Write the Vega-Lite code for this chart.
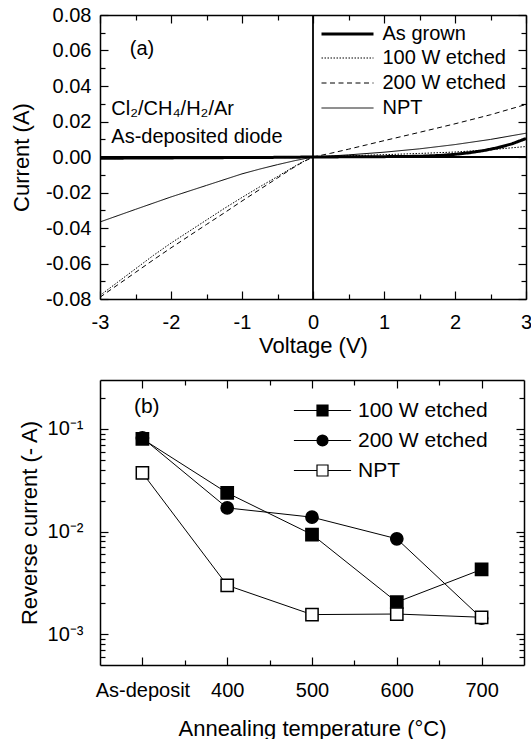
{
  "$schema": "https://vega.github.io/schema/vega-lite/v6.json",
  "padding": {"left": 10, "top": 5, "right": 0, "bottom": 0},
  "spacing": 23,
  "config": {
    "font": "Liberation Sans",
    "view": {"stroke": null},
    "axis": {"grid": false, "domainColor": "black", "tickColor": "black", "labelColor": "black", "titleColor": "black", "domainWidth": 1.5, "tickWidth": 1.2, "labelFontSize": 20, "titleFontSize": 22, "titleFontWeight": "normal", "labelFlush": false, "labelOverlap": false, "labelFont": "Liberation Sans", "titleFont": "Liberation Sans"},
    "legend": {"labelFont": "Liberation Sans", "labelColor": "black"},
    "text": {"font": "Liberation Sans", "color": "black"}
  },
  "datasets": {
    "iv": [
      {"series": "As grown", "V": -3, "I": -0.0007}, {"series": "As grown", "V": -2.5, "I": -0.0006}, {"series": "As grown", "V": -2, "I": -0.0005}, {"series": "As grown", "V": -1.5, "I": -0.0004}, {"series": "As grown", "V": -1, "I": -0.0003}, {"series": "As grown", "V": -0.5, "I": -0.0002}, {"series": "As grown", "V": 0, "I": 0}, {"series": "As grown", "V": 0.5, "I": 0.0001}, {"series": "As grown", "V": 1, "I": 0.0002}, {"series": "As grown", "V": 1.5, "I": 0.0004}, {"series": "As grown", "V": 1.8, "I": 0.0009}, {"series": "As grown", "V": 2.0, "I": 0.0015}, {"series": "As grown", "V": 2.2, "I": 0.0024}, {"series": "As grown", "V": 2.4, "I": 0.0036}, {"series": "As grown", "V": 2.6, "I": 0.0052}, {"series": "As grown", "V": 2.8, "I": 0.0074}, {"series": "As grown", "V": 3.0, "I": 0.0104},
      {"series": "100 W etched", "V": -3, "I": -0.078}, {"series": "100 W etched", "V": -2.75, "I": -0.0705}, {"series": "100 W etched", "V": -2.5, "I": -0.063}, {"series": "100 W etched", "V": -2.25, "I": -0.0555}, {"series": "100 W etched", "V": -2, "I": -0.0485}, {"series": "100 W etched", "V": -1.75, "I": -0.042}, {"series": "100 W etched", "V": -1.5, "I": -0.0355}, {"series": "100 W etched", "V": -1.25, "I": -0.029}, {"series": "100 W etched", "V": -1, "I": -0.0228}, {"series": "100 W etched", "V": -0.75, "I": -0.0168}, {"series": "100 W etched", "V": -0.5, "I": -0.011}, {"series": "100 W etched", "V": -0.3, "I": -0.0062}, {"series": "100 W etched", "V": -0.15, "I": -0.0028}, {"series": "100 W etched", "V": 0, "I": 0}, {"series": "100 W etched", "V": 0.25, "I": 0.0004}, {"series": "100 W etched", "V": 0.5, "I": 0.0007}, {"series": "100 W etched", "V": 1, "I": 0.0013}, {"series": "100 W etched", "V": 1.5, "I": 0.002}, {"series": "100 W etched", "V": 2, "I": 0.0028}, {"series": "100 W etched", "V": 2.5, "I": 0.0041}, {"series": "100 W etched", "V": 2.75, "I": 0.005}, {"series": "100 W etched", "V": 3, "I": 0.0059},
      {"series": "200 W etched", "V": -3, "I": -0.079}, {"series": "200 W etched", "V": -2.75, "I": -0.072}, {"series": "200 W etched", "V": -2.5, "I": -0.065}, {"series": "200 W etched", "V": -2.25, "I": -0.058}, {"series": "200 W etched", "V": -2, "I": -0.0512}, {"series": "200 W etched", "V": -1.75, "I": -0.0446}, {"series": "200 W etched", "V": -1.5, "I": -0.038}, {"series": "200 W etched", "V": -1.25, "I": -0.0315}, {"series": "200 W etched", "V": -1, "I": -0.0248}, {"series": "200 W etched", "V": -0.75, "I": -0.0183}, {"series": "200 W etched", "V": -0.5, "I": -0.0118}, {"series": "200 W etched", "V": -0.3, "I": -0.0066}, {"series": "200 W etched", "V": -0.15, "I": -0.003}, {"series": "200 W etched", "V": 0, "I": 0}, {"series": "200 W etched", "V": 0.25, "I": 0.0021}, {"series": "200 W etched", "V": 0.5, "I": 0.0044}, {"series": "200 W etched", "V": 0.75, "I": 0.0068}, {"series": "200 W etched", "V": 1, "I": 0.0092}, {"series": "200 W etched", "V": 1.5, "I": 0.0139}, {"series": "200 W etched", "V": 2, "I": 0.0187}, {"series": "200 W etched", "V": 2.5, "I": 0.0238}, {"series": "200 W etched", "V": 3, "I": 0.0296},
      {"series": "NPT", "V": -3, "I": -0.0366}, {"series": "NPT", "V": -2.5, "I": -0.0295}, {"series": "NPT", "V": -2, "I": -0.0225}, {"series": "NPT", "V": -1.5, "I": -0.016}, {"series": "NPT", "V": -1, "I": -0.0095}, {"series": "NPT", "V": -0.75, "I": -0.0068}, {"series": "NPT", "V": -0.5, "I": -0.0043}, {"series": "NPT", "V": -0.25, "I": -0.002}, {"series": "NPT", "V": 0, "I": 0}, {"series": "NPT", "V": 0.25, "I": 0.0006}, {"series": "NPT", "V": 0.5, "I": 0.0012}, {"series": "NPT", "V": 1, "I": 0.0027}, {"series": "NPT", "V": 1.5, "I": 0.0046}, {"series": "NPT", "V": 2, "I": 0.007}, {"series": "NPT", "V": 2.5, "I": 0.0099}, {"series": "NPT", "V": 3, "I": 0.0134}
    ],
    "rc": [
      {"series": "100 W etched", "T": 300, "I": 0.080}, {"series": "100 W etched", "T": 400, "I": 0.0238}, {"series": "100 W etched", "T": 500, "I": 0.00935}, {"series": "100 W etched", "T": 600, "I": 0.00205}, {"series": "100 W etched", "T": 700, "I": 0.00427},
      {"series": "200 W etched", "T": 300, "I": 0.0818}, {"series": "200 W etched", "T": 400, "I": 0.0170}, {"series": "200 W etched", "T": 500, "I": 0.0138}, {"series": "200 W etched", "T": 600, "I": 0.0085}, {"series": "200 W etched", "T": 700, "I": 0.00143},
      {"series": "NPT", "T": 300, "I": 0.0373}, {"series": "NPT", "T": 400, "I": 0.00299}, {"series": "NPT", "T": 500, "I": 0.00155}, {"series": "NPT", "T": 600, "I": 0.00157}, {"series": "NPT", "T": 700, "I": 0.00146}
    ]
  },
  "vconcat": [
    {
      "width": 426,
      "height": 284,
      "resolve": {"axis": {"x": "independent", "y": "independent"}, "scale": {"strokeDash": "independent"}, "legend": {"strokeDash": "independent"}},
      "layer": [
        {
          "data": {"name": "iv"},
          "mark": {"type": "point", "opacity": 0},
          "encoding": {
            "x": {"field": "V", "type": "quantitative", "scale": {"domain": [-3, 3], "nice": false, "zero": false}, "axis": {"orient": "top", "values": [-3, -2, -1, 0, 1, 2, 3], "labels": false, "title": null, "tickSize": -8}},
            "y": {"field": "I", "type": "quantitative", "scale": {"domain": [-0.08, 0.08], "nice": false}, "axis": {"orient": "right", "values": [-0.08, -0.06, -0.04, -0.02, 0, 0.02, 0.04, 0.06, 0.08], "labels": false, "title": null, "tickSize": -8}}
          }
        },
        {
          "data": {"name": "iv"},
          "mark": {"type": "point", "opacity": 0},
          "encoding": {
            "x": {"field": "V", "type": "quantitative", "scale": {"domain": [-3, 3], "nice": false, "zero": false}, "axis": {"orient": "bottom", "values": [-2.5, -1.5, -0.5, 0.5, 1.5, 2.5], "labels": false, "domain": false, "title": null, "tickSize": -5}},
            "y": {"field": "I", "type": "quantitative", "scale": {"domain": [-0.08, 0.08], "nice": false}, "axis": {"orient": "left", "values": [-0.07, -0.05, -0.03, -0.01, 0.01, 0.03, 0.05, 0.07], "labels": false, "domain": false, "title": null, "tickSize": -5}}
          }
        },
        {
          "data": {"name": "iv"},
          "mark": {"type": "point", "opacity": 0},
          "encoding": {
            "x": {"field": "V", "type": "quantitative", "scale": {"domain": [-3, 3], "nice": false, "zero": false}, "axis": {"orient": "top", "values": [-2.5, -1.5, -0.5, 0.5, 1.5, 2.5], "labels": false, "domain": false, "title": null, "tickSize": -5}},
            "y": {"field": "I", "type": "quantitative", "scale": {"domain": [-0.08, 0.08], "nice": false}, "axis": {"orient": "right", "values": [-0.07, -0.05, -0.03, -0.01, 0.01, 0.03, 0.05, 0.07], "labels": false, "domain": false, "title": null, "tickSize": -5}}
          }
        },
        {
          "data": {"values": [{}]},
          "mark": {"type": "rule", "color": "black", "strokeWidth": 1.8},
          "encoding": {"x": {"datum": 0, "type": "quantitative", "scale": {"domain": [-3, 3], "nice": false, "zero": false}, "axis": null}}
        },
        {
          "data": {"values": [{}]},
          "mark": {"type": "rule", "color": "black", "strokeWidth": 1.8},
          "encoding": {"y": {"datum": 0, "type": "quantitative", "scale": {"domain": [-0.08, 0.08], "nice": false}, "axis": null}}
        },
        {
          "data": {"name": "iv"},
          "transform": [{"filter": "datum.series !== 'As grown'"}],
          "mark": {"type": "line", "color": "black", "strokeWidth": 1},
          "encoding": {
            "x": {"field": "V", "type": "quantitative", "scale": {"domain": [-3, 3], "nice": false, "zero": false}, "axis": {"orient": "bottom", "values": [-3, -2, -1, 0, 1, 2, 3], "labelExpr": "replace(format(datum.value, 'd'), '\u2212', '-')", "title": "Voltage (V)", "tickSize": -8, "labelPadding": 21, "titlePadding": 3}},
            "y": {"field": "I", "type": "quantitative", "scale": {"domain": [-0.08, 0.08], "nice": false}, "axis": {"orient": "left", "values": [-0.08, -0.06, -0.04, -0.02, 0, 0.02, 0.04, 0.06, 0.08], "labelExpr": "replace(format(datum.value, '.2f'), '\u2212', '-')", "title": "Current (A)", "tickSize": -8, "labelPadding": 17, "titlePadding": 12}},
            "order": {"field": "V", "type": "quantitative"},
            "strokeDash": {
              "field": "series", "type": "nominal",
              "scale": {"domain": ["100 W etched", "200 W etched", "NPT"], "range": [[1.5, 1.5], [5, 3.5], [1, 0]]},
              "legend": {"title": null, "orient": "none", "legendX": 221, "legendY": 33, "symbolType": "M-5.2,0H5.2", "symbolSize": 100, "symbolOffset": 16.5, "labelOffset": 25, "labelFontSize": 20, "rowPadding": 5, "padding": 0, "symbolStrokeColor": "black", "symbolStrokeWidth": 1}
            }
          }
        },
        {
          "data": {"name": "iv"},
          "transform": [{"filter": "datum.series === 'As grown'"}],
          "mark": {"type": "line", "color": "black", "strokeWidth": 3},
          "encoding": {
            "x": {"field": "V", "type": "quantitative", "scale": {"domain": [-3, 3], "nice": false, "zero": false}, "axis": null},
            "y": {"field": "I", "type": "quantitative", "scale": {"domain": [-0.08, 0.08], "nice": false}, "axis": null},
            "order": {"field": "V", "type": "quantitative"},
            "strokeDash": {"field": "series", "type": "nominal", "scale": {"domain": ["As grown"], "range": [[1, 0]]},
              "legend": {"title": null, "orient": "none", "legendX": 221, "legendY": 9, "symbolType": "M-5.2,0H5.2", "symbolSize": 100, "symbolOffset": 16.5, "labelOffset": 25, "labelFontSize": 20, "padding": 0, "symbolStrokeColor": "black", "symbolStrokeWidth": 3}}
          }
        },
        {
          "data": {"values": [{}]},
          "mark": {"type": "text", "text": "(a)", "align": "left", "baseline": "middle", "fontSize": 20},
          "encoding": {
            "x": {"datum": -2.58, "type": "quantitative", "scale": {"domain": [-3, 3], "nice": false, "zero": false}, "axis": null},
            "y": {"datum": 0.0607, "type": "quantitative", "scale": {"domain": [-0.08, 0.08], "nice": false}, "axis": null}
          }
        },
        {
          "data": {"values": [{}]},
          "mark": {"type": "text", "text": "Cl₂/CH₄/H₂/Ar", "align": "left", "baseline": "middle", "fontSize": 20},
          "encoding": {
            "x": {"datum": -2.84, "type": "quantitative", "scale": {"domain": [-3, 3], "nice": false, "zero": false}, "axis": null},
            "y": {"datum": 0.0271, "type": "quantitative", "scale": {"domain": [-0.08, 0.08], "nice": false}, "axis": null}
          }
        },
        {
          "data": {"values": [{}]},
          "mark": {"type": "text", "text": "As-deposited diode", "align": "left", "baseline": "middle", "fontSize": 20},
          "encoding": {
            "x": {"datum": -2.84, "type": "quantitative", "scale": {"domain": [-3, 3], "nice": false, "zero": false}, "axis": null},
            "y": {"datum": 0.0111, "type": "quantitative", "scale": {"domain": [-0.08, 0.08], "nice": false}, "axis": null}
          }
        }
      ]
    },
    {
      "width": 424,
      "height": 285,
      "resolve": {"axis": {"x": "independent", "y": "independent"}, "scale": {"shape": "independent", "fill": "independent", "stroke": "independent"}},
      "layer": [
        {
          "data": {"name": "rc"},
          "mark": {"type": "point", "opacity": 0},
          "encoding": {
            "x": {"field": "T", "type": "quantitative", "scale": {"domain": [250, 750], "nice": false, "zero": false}, "axis": {"orient": "top", "values": [300, 400, 500, 600, 700], "labels": false, "title": null, "tickSize": -8}},
            "y": {"field": "I", "type": "quantitative", "scale": {"type": "log", "domain": [0.0005, 0.3], "nice": false}, "axis": {"orient": "right", "values": [0.001, 0.01, 0.1], "labels": false, "title": null, "tickSize": -8}}
          }
        },
        {
          "data": {"name": "rc"},
          "mark": {"type": "point", "opacity": 0},
          "encoding": {
            "x": {"field": "T", "type": "quantitative", "scale": {"domain": [250, 750], "nice": false, "zero": false}, "axis": {"orient": "bottom", "values": [350, 450, 550, 650], "labels": false, "domain": false, "title": null, "tickSize": -5}},
            "y": {"field": "I", "type": "quantitative", "scale": {"type": "log", "domain": [0.0005, 0.3], "nice": false}, "axis": {"orient": "left", "values": [0.0006, 0.0007, 0.0008, 0.0009, 0.002, 0.003, 0.004, 0.005, 0.006, 0.007, 0.008, 0.009, 0.02, 0.03, 0.04, 0.05, 0.06, 0.07, 0.08, 0.09, 0.2], "labels": false, "domain": false, "title": null, "tickSize": -5}}
          }
        },
        {
          "data": {"name": "rc"},
          "mark": {"type": "point", "opacity": 0},
          "encoding": {
            "x": {"field": "T", "type": "quantitative", "scale": {"domain": [250, 750], "nice": false, "zero": false}, "axis": {"orient": "top", "values": [350, 450, 550, 650], "labels": false, "domain": false, "title": null, "tickSize": -5}},
            "y": {"field": "I", "type": "quantitative", "scale": {"type": "log", "domain": [0.0005, 0.3], "nice": false}, "axis": {"orient": "right", "values": [0.0006, 0.0007, 0.0008, 0.0009, 0.002, 0.003, 0.004, 0.005, 0.006, 0.007, 0.008, 0.009, 0.02, 0.03, 0.04, 0.05, 0.06, 0.07, 0.08, 0.09, 0.2], "labels": false, "domain": false, "title": null, "tickSize": -5}}
          }
        },
        {
          "data": {"name": "rc"},
          "mark": {"type": "line", "color": "black", "strokeWidth": 1},
          "encoding": {
            "x": {"field": "T", "type": "quantitative", "scale": {"domain": [250, 750], "nice": false, "zero": false}, "axis": {"orient": "bottom", "values": [300, 400, 500, 600, 700], "labelExpr": "datum.value == 300 ? 'As-deposit' : datum.value", "title": "Annealing temperature (°C)", "tickSize": -8, "labelPadding": 23, "titlePadding": 18}},
            "y": {"field": "I", "type": "quantitative", "scale": {"type": "log", "domain": [0.0005, 0.3], "nice": false}, "axis": {"orient": "left", "values": [0.001, 0.01, 0.1], "labelExpr": "datum.value > 0.05 ? '10⁻¹' : datum.value > 0.005 ? '10⁻²' : '10⁻³'", "title": "Reverse current (- A)", "tickSize": -8, "labelPadding": 25, "titlePadding": 6}},
            "detail": {"field": "series", "type": "nominal"},
            "order": {"field": "T", "type": "quantitative"}
          }
        },
        {
          "data": {"name": "rc"},
          "mark": {"type": "point", "filled": true, "stroke": "black", "strokeWidth": 1.5, "opacity": 1, "size": 150},
          "encoding": {
            "x": {"field": "T", "type": "quantitative", "scale": {"domain": [250, 750], "nice": false, "zero": false}, "axis": null},
            "y": {"field": "I", "type": "quantitative", "scale": {"type": "log", "domain": [0.0005, 0.3], "nice": false}, "axis": null},
            "shape": {"field": "series", "type": "nominal", "scale": {"domain": ["100 W etched", "200 W etched", "NPT"], "range": ["square", "circle", "square"]}, "legend": null},
            "fill": {"field": "series", "type": "nominal", "scale": {"domain": ["100 W etched", "200 W etched", "NPT"], "range": ["black", "black", "white"]}, "legend": null}
          }
        },
        {
          "data": {"name": "rc"},
          "transform": [{"filter": "false"}],
          "mark": {"type": "point", "filled": true, "strokeWidth": 1.2, "opacity": 1},
          "encoding": {
            "x": {"field": "T", "type": "quantitative", "scale": {"domain": [250, 750], "nice": false, "zero": false}, "axis": null},
            "y": {"field": "I", "type": "quantitative", "scale": {"type": "log", "domain": [0.0005, 0.3], "nice": false}, "axis": null},
            "shape": {"field": "series", "type": "nominal", "scale": {"domain": ["100 W etched", "200 W etched", "NPT"], "range": ["M-5.2,0H-1M1,0H5.2M-1,-1H1V1H-1Z", "M-5.2,0H-1M1,0H5.2M-1,0A1,1 0 1,1 1,0A1,1 0 1,1 -1,0Z", "M-5.2,0H-1M1,0H5.2M-1,-1H1V1H-1Z"]},
              "legend": {"title": null, "orient": "none", "legendX": 197, "legendY": 20, "symbolSize": 121, "symbolOffset": 15, "labelOffset": 25, "labelFontSize": 21, "rowPadding": 8, "padding": 0, "symbolStrokeWidth": 1.2}},
            "fill": {"field": "series", "type": "nominal", "scale": {"domain": ["100 W etched", "200 W etched", "NPT"], "range": ["black", "black", "white"]},
              "legend": {"title": null, "orient": "none", "legendX": 197, "legendY": 20, "symbolSize": 121, "symbolOffset": 15, "labelOffset": 25, "labelFontSize": 21, "rowPadding": 8, "padding": 0, "symbolStrokeWidth": 1.2}},
            "stroke": {"field": "series", "type": "nominal", "scale": {"domain": ["100 W etched", "200 W etched", "NPT"], "range": ["black", "black", "black"]},
              "legend": {"title": null, "orient": "none", "legendX": 197, "legendY": 20, "symbolSize": 121, "symbolOffset": 15, "labelOffset": 25, "labelFontSize": 21, "rowPadding": 8, "padding": 0, "symbolStrokeWidth": 1.2}}
          }
        },
        {
          "data": {"values": [{}]},
          "mark": {"type": "text", "text": "(b)", "align": "left", "baseline": "middle", "fontSize": 21},
          "encoding": {
            "x": {"datum": 290, "type": "quantitative", "scale": {"domain": [250, 750], "nice": false, "zero": false}, "axis": null},
            "y": {"datum": 0.163, "type": "quantitative", "scale": {"type": "log", "domain": [0.0005, 0.3], "nice": false}, "axis": null}
          }
        }
      ]
    }
  ]
}
